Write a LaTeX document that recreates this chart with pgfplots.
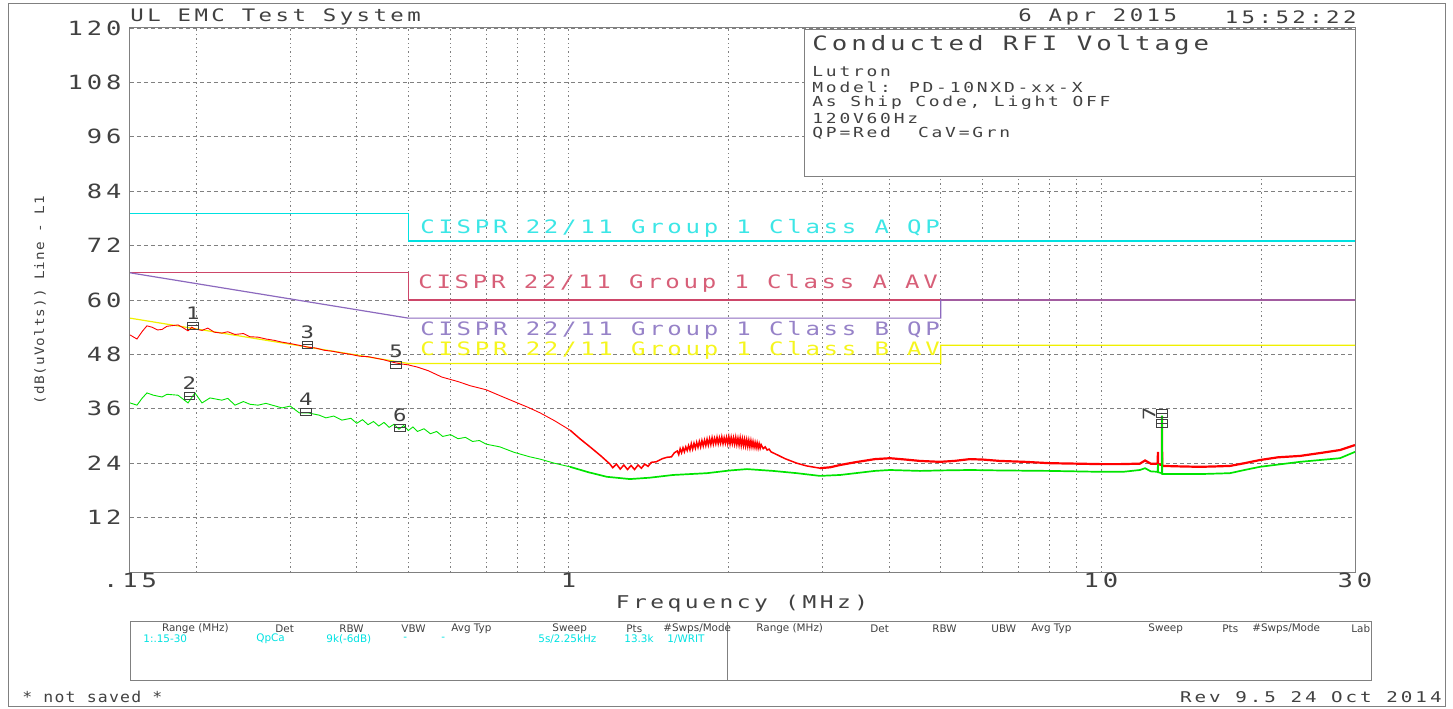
\documentclass[border=0pt]{standalone}
\usepackage{pgfplots}
\pgfplotsset{compat=1.18}
\usepackage{fontspec}
\newfontfamily\hpf{DejaVu Sans Mono}[FakeStretch=1.3, LetterSpace=20]
\newfontfamily\hpn{DejaVu Sans Mono}[FakeStretch=1.1, LetterSpace=8]
\newfontfamily\tabf{DejaVu Sans}
\definecolor{hpcyan}{RGB}{0,225,225}
\definecolor{hpcyant}{RGB}{60,230,230}
\definecolor{hpcrim}{RGB}{205,70,105}
\definecolor{hpcrimt}{RGB}{215,95,120}
\definecolor{hppurp}{RGB}{140,105,190}
\definecolor{hppurpt}{RGB}{150,130,200}
\definecolor{hpyel}{RGB}{240,240,0}
\definecolor{hpyelt}{RGB}{245,245,30}
\definecolor{hpred}{RGB}{255,0,0}
\definecolor{hpgrn}{RGB}{0,228,0}
\definecolor{hpgray}{RGB}{128,128,128}
\definecolor{hptxt}{RGB}{65,65,65}
\pgfdeclareplotmark{emc}{%
  \begingroup
  \pgfsetcornersarced{\pgfpoint{1.2pt}{1.2pt}}%
  \pgfpathrectangle{\pgfpoint{-2.6pt}{-1.8pt}}{\pgfpoint{5.2pt}{3.6pt}}%
  \pgfusepathqstroke
  \endgroup
  \pgfpathmoveto{\pgfpoint{-2.6pt}{0pt}}\pgfpathlineto{\pgfpoint{2.6pt}{0pt}}\pgfusepathqstroke
}
\begin{document}
\begin{tikzpicture}
\useasboundingbox (0,0) rectangle (726.5pt,354pt);
\draw[hpgray, line width=0.5pt] (4pt,1pt) rectangle (722.5pt,352pt);
\begin{axis}[
  at={(65pt,68pt)}, anchor=south west, scale only axis,
  width=612.5pt, height=272pt,
  xmode=log, xmin=0.15, xmax=30, ymin=0, ymax=120,
  axis line style={draw=hpgray, line width=0.5pt},
  xtick={0.15,1,10,30}, xticklabels={.15,1,10,30},
  minor xtick={0.2,0.3,0.4,0.5,0.6,0.7,0.8,0.9,1,2,3,4,5,6,7,8,9,10,20},
  ytick={12,24,36,48,60,72,84,96,108,120},
  yticklabels={12,24,36,48,60,72,84,96,108,120},
  major tick length=0pt, minor tick length=0pt,
  ymajorgrids, xminorgrids,
  major grid style={draw=hpgray, line width=0.45pt, dash pattern=on 2pt off 1.5pt},
  minor grid style={draw=hpgray, line width=0.45pt, dash pattern=on 0.7pt off 1.5pt},
  tick label style={font=\hpf\fontsize{9.8}{10}\selectfont, text=hptxt},
  xticklabel style={anchor=center, yshift=-4pt},
  yticklabel style={anchor=east, inner sep=0pt, xshift=-4pt},
]
% limit lines
\addplot[hpcyan, line width=0.6pt] coordinates {(0.15,79) (0.5,79) (0.5,73) (30,73)};
\addplot[hpcrim, line width=0.6pt] coordinates {(0.15,66) (0.5,66) (0.5,60) (30,60)};
\addplot[hppurp, line width=0.6pt] coordinates {(0.15,66) (0.5,56) (5,56) (5,60) (30,60)};
\addplot[hpyel, line width=0.6pt] coordinates {(0.15,56) (0.5,46) (5,46) (5,50) (30,50)};
% QP trace (red)
\addplot[hpred, line width=0.45pt] coordinates {
(0.150,52.3) (0.152,51.9) (0.1546,51.4) (0.158,53.0) (0.1614,54.3) (0.165,54.0)
(0.169,53.4) (0.1723,53.5) (0.176,54.2) (0.1846,54.5) (0.188,54.0) (0.1928,53.2)
(0.196,54.0) (0.1987,53.6) (0.2048,53.3) (0.210,53.8) (0.216,52.9) (0.2232,52.7)
(0.229,53.0) (0.2362,52.4) (0.245,52.6) (0.252,51.9) (0.261,51.8) (0.270,51.4)
(0.280,51.1) (0.2895,50.7) (0.300,50.4) (0.312,50.0) (0.324,49.6) (0.335,49.4)
(0.348,48.9) (0.360,48.7) (0.375,48.3) (0.390,48.0) (0.405,47.6) (0.420,47.5)
(0.433,47.2) (0.450,46.8) (0.470,46.2) (0.485,45.9) (0.499,45.7) (0.520,45.2)
(0.545,44.4) (0.578,43.0) (0.620,42.0) (0.653,41.1) (0.700,40.2) (0.743,38.9)
(0.790,37.6) (0.840,36.3) (0.884,35.1) (0.940,33.4) (1.006,31.3)
};
\addplot[hpred, line width=0.75pt] coordinates {
(1.006,31.3) (1.05,29.4) (1.097,27.6) (1.15,25.6) (1.196,23.8) (1.21,23.0)
(1.23,23.8) (1.25,22.7) (1.27,23.6) (1.29,22.6) (1.31,23.5) (1.33,22.6)
(1.35,23.6) (1.37,22.9) (1.39,23.8) (1.41,23.3) (1.43,24.2) (1.46,24.3)
(1.50,25.0) (1.53,25.3) (1.56,25.4) (1.58,26.3)
(1.60,26.7) (1.61,25.9) (1.62,27.2) (1.63,26.3) (1.64,27.4) (1.65,26.5)
(1.66,27.6) (1.67,26.8) (1.68,27.9) (1.69,26.9) (1.70,28.3) (1.71,27.1)
(1.72,28.4) (1.73,27.3) (1.74,28.6) (1.75,27.5) (1.76,28.8) (1.77,27.6)
(1.78,29.0) (1.79,27.8) (1.80,29.1) (1.81,27.9) (1.82,29.3) (1.83,28.0)
(1.84,29.4) (1.85,28.1) (1.86,29.6) (1.87,28.2) (1.88,29.5) (1.89,28.3)
(1.90,29.7) (1.91,28.3) (1.92,29.6) (1.93,28.4) (1.94,29.8) (1.95,28.3)
(1.96,29.6) (1.97,28.4) (1.98,29.7) (1.99,28.3) (2.00,29.8) (2.01,28.2)
(2.02,29.7) (2.03,28.3) (2.04,29.6) (2.05,28.2) (2.06,29.7) (2.07,28.1)
(2.08,29.5) (2.09,28.0) (2.10,29.6) (2.11,27.9) (2.12,29.4) (2.13,27.9)
(2.14,29.3) (2.15,27.8) (2.16,29.2) (2.17,27.7) (2.18,29.1) (2.19,27.6)
(2.20,29.0) (2.21,27.6) (2.22,28.8) (2.23,27.5) (2.24,28.6) (2.25,27.4)
(2.26,28.5) (2.27,27.3) (2.28,28.3) (2.29,27.3) (2.30,28.1) (2.32,27.2)
(2.34,27.6) (2.36,26.9) (2.38,27.1) (2.40,26.5) (2.45,26.0)
(2.55,25.0) (2.683,24.0) (2.80,23.4) (2.965,22.9)
};
\addplot[hpred, line width=1.1pt] coordinates {
(2.965,22.9) (3.10,23.1) (3.234,23.6) (3.45,24.2) (3.761,24.9) (4.015,25.1) (4.30,24.8)
(4.571,24.5) (4.98,24.3) (5.30,24.5) (5.67,24.9) (6.00,24.8) (6.46,24.5)
(7.20,24.3) (8.02,24.0) (9.00,23.9) (9.96,23.8) (10.9,23.8) (11.83,23.9)
(12.1,24.6) (12.4,23.9) (12.78,23.9) (12.79,26.5) (12.80,23.8) (13.01,23.6)
(13.02,34.4) (13.03,23.4) (14.0,23.3) (15.34,23.2) (16.5,23.3) (17.47,23.4)
(18.6,24.0) (19.89,24.7) (21.5,25.3) (23.64,25.6) (26.0,26.3) (28.1,26.9)
(30.0,28.0)
};
% CAV trace (green)
\addplot[hpgrn, line width=0.45pt] coordinates {
(0.150,37.3) (0.1546,36.8) (0.158,38.3) (0.1614,39.5) (0.166,39.0) (0.1723,38.6)
(0.176,39.2) (0.1846,39.0) (0.1928,37.3) (0.1987,39.5) (0.2048,37.3) (0.212,38.4)
(0.2232,37.9) (0.229,38.3) (0.2362,36.8) (0.245,37.6) (0.252,37.0) (0.261,36.8)
(0.270,37.2) (0.2895,36.2) (0.300,36.6) (0.312,35.1) (0.324,35.1) (0.340,34.6)
(0.350,34.0) (0.362,34.4) (0.375,33.5) (0.39,33.9) (0.40,32.8) (0.41,33.6)
(0.42,32.5) (0.43,33.2) (0.44,32.2) (0.45,33.0) (0.46,31.9) (0.47,32.6)
(0.48,31.5) (0.49,32.3) (0.50,31.2) (0.51,32.0) (0.52,31.0) (0.535,31.6)
(0.55,30.5) (0.565,31.0) (0.58,29.9) (0.60,30.3) (0.62,29.4) (0.64,29.7)
(0.66,28.8) (0.68,29.0) (0.70,28.2) (0.743,27.6) (0.79,26.4) (0.846,25.4)
(0.884,24.9) (0.94,24.0) (1.006,23.2)
};
\addplot[hpgrn, line width=0.85pt] coordinates {
(1.006,23.2) (1.09,22.0) (1.18,21.0) (1.304,20.5) (1.42,20.8) (1.57,21.4)
(1.819,21.8) (2.01,22.4) (2.163,22.7) (2.42,22.3) (2.683,21.8) (2.965,21.2)
(3.234,21.4) (3.761,22.3) (4.015,22.5) (4.571,22.3) (4.98,22.4) (5.67,22.5)
(6.46,22.4) (8.02,22.3) (9.96,22.1) (11.0,22.1) (11.83,22.5) (12.1,22.9)
(12.4,22.2) (12.78,22.1) (12.79,23.8) (12.80,22.0) (13.01,21.8) (13.02,34.5)
(13.03,21.6) (15.34,21.6) (17.47,21.8) (18.6,22.5) (19.89,23.2) (23.64,24.3)
(28.1,25.1) (30.0,26.5)
};
% markers
\addplot[only marks, mark=emc, mark options={draw=hptxt, line width=0.4pt},
  point meta=explicit symbolic, nodes near coords,
  nodes near coords style={font=\hpf\fontsize{8.6}{9}\selectfont, text=hptxt, anchor=center, yshift=6.5pt}]
  table[meta=lab] {
x y lab
0.197 54.3 1
0.194 38.8 2
0.323 50.1 3
0.321 35.3 4
0.474 45.7 5
0.482 31.8 6
};
\addplot[only marks, mark=emc, mark options={draw=hptxt, line width=0.4pt},
  point meta=explicit symbolic, nodes near coords,
  nodes near coords style={font=\hpf\fontsize{8.6}{9}\selectfont, text=hptxt, anchor=center, rotate=90, yshift=6.5pt}]
  table[meta=lab] {
x y lab
13.02 35.0 7
};
\addplot[only marks, mark=emc, mark options={draw=hptxt, line width=0.4pt}]
  coordinates {(13.02,32.8)};
\end{axis}
% limit labels
\begin{scope}[every node/.style={anchor=west, inner sep=0pt, font=\hpf\fontsize{9.25}{10}\selectfont}]
\node[text=hpcyant] at (210pt,240pt) {CISPR 22/11 Group 1 Class A QP};
\node[text=hpcrimt] at (209pt,212.5pt) {CISPR 22/11 Group 1 Class A AV};
\node[text=hppurpt] at (210pt,189pt) {CISPR 22/11 Group 1 Class B QP};
\node[text=hpyelt] at (210pt,179pt) {CISPR 22/11 Group 1 Class B AV};
\end{scope}
% info box
\draw[hpgray, line width=0.5pt, fill=white] (402pt,265.5pt) rectangle (677.5pt,339pt);
\node[anchor=west, inner sep=0pt, text=hptxt, font=\hpf\fontsize{9.9}{10}\selectfont] at (406pt,331.5pt) {Conducted RFI Voltage};
\begin{scope}[every node/.style={anchor=west, inner sep=0pt, text=hptxt, font=\hpf\fontsize{6.9}{7}\selectfont}]
\node at (406pt,318pt) {Lutron};
\node at (406pt,310.5pt) {Model: PD-10NXD-xx-X};
\node at (406pt,302.5pt) {As Ship Code, Light OFF};
\node at (406pt,295pt) {120V60Hz};
\node at (406pt,287.5pt) {QP=Red\ \ CaV=Grn};
\end{scope}
% top texts
\begin{scope}[every node/.style={inner sep=0pt, text=hptxt, font=\hpf\fontsize{8.6}{9}\selectfont}]
\node[anchor=west] at (65pt,345.5pt) {UL EMC Test System};
\node[anchor=west] at (509pt,345.5pt) {6 Apr 2015};
\node[anchor=east] at (678.5pt,345.5pt) {15:52:22};
\end{scope}
% axis labels
\node[inner sep=0pt, text=hptxt, font=\hpf\fontsize{8.8}{9}\selectfont] at (371pt,52pt) {Frequency (MHz)};
\node[inner sep=0pt, rotate=90, text=hptxt, font=\hpn\fontsize{6.5}{7}\selectfont] at (20pt,204pt) {(dB(uVolts)) Line - L1};
% bottom table
\draw[hpgray, line width=0.5pt] (65pt,14pt) rectangle (685.5pt,43.5pt);
\draw[hpgray, line width=0.5pt] (363.5pt,14pt) -- (363.5pt,43.5pt);
\begin{scope}[every node/.style={anchor=west, inner sep=0pt, text=hptxt, font=\tabf\fontsize{5.2}{6}\selectfont}]
\node at (80.8pt,39.5pt) {Range (MHz)};
\node at (137.5pt,39.5pt) {Det};
\node at (169.5pt,39.5pt) {RBW};
\node at (200.5pt,39.5pt) {VBW};
\node at (225.5pt,39.5pt) {Avg Typ};
\node at (276pt,39.5pt) {Sweep};
\node at (313pt,39.5pt) {Pts};
\node at (331.5pt,39.5pt) {\#Swps/Mode};
\node at (378pt,39.5pt) {Range (MHz)};
\node at (435pt,39.5pt) {Det};
\node at (466pt,39.5pt) {RBW};
\node at (495.5pt,39.5pt) {UBW};
\node at (515.5pt,39.5pt) {Avg Typ};
\node at (574pt,39.5pt) {Sweep};
\node at (611pt,39.5pt) {Pts};
\node at (626pt,39.5pt) {\#Swps/Mode};
\node at (675.5pt,39.5pt) {Lab};
\end{scope}
\begin{scope}[every node/.style={anchor=west, inner sep=0pt, text=hpcyan, font=\tabf\fontsize{5.2}{6}\selectfont}]
\node at (71.5pt,34.5pt) {1:.15-30};
\node at (128pt,34.5pt) {QpCa};
\node at (163pt,34.5pt) {9k(-6dB)};
\node at (201.5pt,34.5pt) {-};
\node at (220.5pt,34.5pt) {-};
\node at (269pt,34.5pt) {5s/2.25kHz};
\node at (312pt,34.5pt) {13.3k};
\node at (333.5pt,34.5pt) {1/WRIT};
\end{scope}
% footer
\node[anchor=west, inner sep=0pt, text=hptxt, font=\hpn\fontsize{7.5}{8}\selectfont] at (11pt,5.5pt) {* not saved *};
\node[anchor=east, inner sep=0pt, text=hptxt, font=\hpf\fontsize{7.4}{8}\selectfont] at (721pt,5.5pt) {Rev 9.5 24 Oct 2014};
\end{tikzpicture}
\end{document}
